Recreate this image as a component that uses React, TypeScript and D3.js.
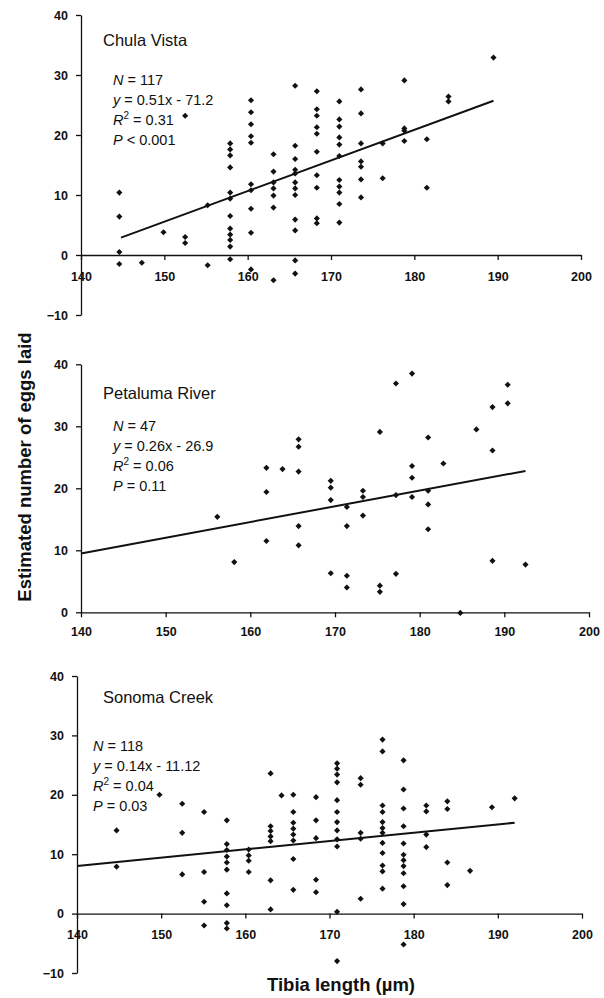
import React, { useEffect, useRef } from "react";
import * as d3 from "d3";

// tibia length (µm), estimated eggs laid
const chulaVista: [number, number][] = [
  [144.6, 10.4], [144.6, 6.4], [144.6, 0.5], [144.6, -1.5], [147.3, -1.3],
  [149.9, 3.8], [152.5, 23.2], [152.5, 3.0], [152.5, 2.0], [155.2, 8.3], [155.2, -1.7],
  [157.9, 18.6], [157.9, 17.6], [157.9, 16.6], [157.9, 14.6], [157.9, 10.4], [157.9, 9.4],
  [157.9, 6.5], [157.9, 4.4], [157.9, 3.4], [157.9, 2.5], [157.9, 1.4], [157.9, -0.7],
  [160.4, 25.8], [160.4, 23.8], [160.4, 21.8], [160.4, 19.8], [160.4, 18.7], [160.4, 11.8],
  [160.4, 10.8], [160.4, 7.7], [160.4, 3.7], [160.4, -2.4],
  [163.1, 16.8], [163.1, 13.9], [163.1, 12.1], [163.1, 11.1], [163.1, 9.9], [163.1, 7.9], [163.1, -4.2],
  [165.7, 28.2], [165.7, 18.2], [165.7, 16.0], [165.7, 14.2], [165.7, 13.6], [165.7, 12.1],
  [165.7, 11.1], [165.7, 10.0], [165.7, 5.9], [165.7, 4.1], [165.7, -0.9], [165.7, -3.1],
  [168.3, 27.3], [168.3, 24.3], [168.3, 23.2], [168.3, 21.3], [168.3, 20.2], [168.3, 17.2],
  [168.3, 13.3], [168.3, 11.2], [168.3, 6.1], [168.3, 5.3],
  [171.0, 25.6], [171.0, 22.6], [171.0, 21.4], [171.0, 19.6], [171.0, 18.4], [171.0, 16.5],
  [171.0, 12.5], [171.0, 11.4], [171.0, 10.4], [171.0, 8.5], [171.0, 5.4],
  [173.6, 27.6], [173.6, 23.6], [173.6, 18.6], [173.6, 15.6], [173.6, 14.7], [173.6, 12.6], [173.6, 9.6],
  [176.2, 18.6], [176.2, 12.8],
  [178.8, 29.1], [178.8, 21.1], [178.8, 20.7], [178.8, 19.0],
  [181.5, 19.3], [181.5, 11.2], [184.1, 26.4], [184.1, 25.6], [189.5, 32.9],
];

const petalumaRiver: [number, number][] = [
  [156.1, 15.4], [158.1, 8.1], [161.9, 23.3], [161.9, 19.4], [161.9, 11.5], [163.8, 23.1],
  [165.7, 27.9], [165.7, 26.7], [165.7, 22.7], [165.7, 13.9], [165.7, 10.8],
  [169.5, 21.2], [169.5, 20.1], [169.5, 18.1], [169.5, 6.3],
  [171.4, 17.0], [171.4, 13.9], [171.4, 5.9], [171.4, 4.0],
  [173.3, 19.6], [173.3, 18.6], [173.3, 15.6],
  [175.3, 29.1], [175.3, 4.3], [175.3, 3.3],
  [177.2, 36.9], [177.2, 18.9], [177.2, 6.2],
  [179.1, 38.5], [179.1, 23.6], [179.1, 21.7], [179.1, 18.6],
  [181.0, 28.2], [181.0, 19.6], [181.0, 17.4], [181.0, 13.4],
  [182.8, 24.0], [184.8, -0.1], [186.7, 29.5],
  [188.6, 33.1], [188.6, 26.1], [188.6, 8.3], [190.4, 36.7], [190.4, 33.7], [192.5, 7.7],
];

const sonomaCreek: [number, number][] = [
  [144.7, 14.0], [144.7, 7.9], [149.8, 20.0], [152.5, 18.5], [152.5, 13.6], [152.5, 6.6],
  [155.1, 17.1], [155.1, 7.0], [155.1, 2.0], [155.1, -2.0],
  [157.8, 15.7], [157.8, 11.7], [157.8, 10.7], [157.8, 9.6], [157.8, 8.6], [157.8, 7.4],
  [157.8, 3.4], [157.8, 1.4], [157.8, -1.6], [157.8, -2.5],
  [160.4, 10.8], [160.4, 9.8], [160.4, 8.9], [160.4, 7.0],
  [163.0, 23.6], [163.0, 14.7], [163.0, 13.9], [163.0, 13.0], [163.0, 12.2], [163.0, 5.6], [163.0, 0.7],
  [164.3, 19.9],
  [165.7, 20.0], [165.7, 17.1], [165.7, 15.3], [165.7, 14.3], [165.7, 13.3], [165.7, 12.3], [165.7, 9.2], [165.7, 4.0],
  [168.4, 19.6], [168.4, 15.7], [168.4, 12.7], [168.4, 5.7], [168.4, 3.6],
  [170.9, 25.3], [170.9, 24.4], [170.9, 23.4], [170.9, 22.1], [170.9, 19.1], [170.9, 17.1],
  [170.9, 15.4], [170.9, 14.0], [170.9, 12.5], [170.9, 11.3], [170.9, 0.3], [170.9, -8.0],
  [173.7, 22.8], [173.7, 21.7], [173.7, 13.6], [173.7, 12.6], [173.7, 2.5],
  [176.3, 29.3], [176.3, 27.3], [176.3, 18.2], [176.3, 17.1], [176.3, 15.4], [176.3, 14.4],
  [176.3, 13.6], [176.3, 11.9], [176.3, 10.2], [176.3, 8.1], [176.3, 7.1], [176.3, 4.2],
  [178.8, 25.8], [178.8, 20.9], [178.8, 17.7], [178.8, 14.7], [178.8, 11.8], [178.8, 9.9],
  [178.8, 9.0], [178.8, 8.0], [178.8, 6.8], [178.8, 4.6], [178.8, 1.6], [178.8, -5.2],
  [181.5, 18.2], [181.5, 17.2], [181.5, 13.3], [181.5, 11.2],
  [184.0, 18.9], [184.0, 17.6], [184.0, 8.6], [184.0, 4.8],
  [186.7, 7.2], [189.3, 17.9], [192.0, 19.4],
];

// fitted lines: [x0, y0, x1, y1]
const chulaFit = [144.8, 2.9, 189.5, 25.7];
const petalumaFit = [140, 9.5, 192.5, 22.8];
const sonomaFit = [140, 8.0, 192, 15.3];

const siteNames = ["Chula Vista", "Petaluma River", "Sonoma Creek"];
const statN = ["117", "47", "118"];
const statEq = ["0.51x - 71.2", "0.26x - 26.9", "0.14x - 11.12"];
const statR2 = ["0.31", "0.06", "0.04"];
const statP = ["< 0.001", "= 0.11", "= 0.03"];

const xTicks = [140, 150, 160, 170, 180, 190, 200];
const yTicksFull = [-10, 0, 10, 20, 30, 40];
const yTicksPos = [0, 10, 20, 30, 40];

const panels = [
  { pts: chulaVista, fit: chulaFit, yMin: -10, yTicks: yTicksFull, left: 81, right: 581, top: 15, bottom: 315, labelPad: 12.5, textX: 113, statY: 85, titleY: 45.5 },
  { pts: petalumaRiver, fit: petalumaFit, yMin: 0, yTicks: yTicksPos, left: 81, right: 589, top: 364.3, bottom: 612.3, labelPad: 10, textX: 113, statY: 431, titleY: 399 },
  { pts: sonomaCreek, fit: sonomaFit, yMin: -10, yTicks: yTicksFull, left: 77, right: 582, top: 676, bottom: 973, labelPad: 11.5, textX: 93, statY: 751, titleY: 703 },
];

const FONT = "Arial, 'Liberation Sans', sans-serif";
const INK = "#111";

export default function App() {
  const svgRef = useRef<SVGSVGElement>(null);
  const width = 604;
  const height = 998;

  useEffect(() => {
    const svg = d3.select(svgRef.current);
    svg.selectAll("*").remove();

    panels.forEach((p, i) => {
      const x = d3.scaleLinear().domain([140, 200]).range([p.left, p.right]);
      const y = d3.scaleLinear().domain([p.yMin, 40]).range([p.bottom, p.top]);
      const g = svg.append("g");

      // y axis
      const ya = g
        .append("g")
        .attr("transform", `translate(${p.left},0)`)
        .call(d3.axisLeft(y).tickValues(p.yTicks).tickSize(5).tickSizeOuter(0).tickPadding(8).tickFormat(d3.format("d")));
      ya.selectAll("path, line").attr("stroke", INK).attr("stroke-width", 1.3);
      ya.selectAll("text").attr("font-family", FONT).attr("font-size", 12.5).attr("font-weight", "bold").attr("fill", INK);

      // x axis at y = 0
      const xa = g
        .append("g")
        .attr("transform", `translate(0,${y(0)})`)
        .call(d3.axisBottom(x).tickValues(xTicks).tickSize(5).tickSizeOuter(0).tickPadding(p.labelPad));
      xa.selectAll("path, line").attr("stroke", INK).attr("stroke-width", 1.3);
      xa.selectAll("text").attr("font-family", FONT).attr("font-size", 12.5).attr("font-weight", "bold").attr("fill", INK);

      // points
      g.selectAll("path.pt")
        .data(p.pts)
        .join("path")
        .attr("class", "pt")
        .attr("transform", (d) => `translate(${x(d[0])},${y(d[1])})`)
        .attr("d", d3.symbol(d3.symbolDiamond2, 24)())
        .attr("fill", INK);

      // fit line
      g.append("line")
        .attr("x1", x(p.fit[0]))
        .attr("y1", y(p.fit[1]))
        .attr("x2", x(p.fit[2]))
        .attr("y2", y(p.fit[3]))
        .attr("stroke", INK)
        .attr("stroke-width", 2);

      // site name
      g.append("text")
        .attr("x", 103)
        .attr("y", p.titleY)
        .attr("font-family", FONT)
        .attr("font-size", 16.5)
        .attr("fill", INK)
        .text(siteNames[i]);

      // stats
      const st = g.append("g").attr("font-family", FONT).attr("font-size", 14.5).attr("fill", INK);
      const l1 = st.append("text").attr("x", p.textX).attr("y", p.statY);
      l1.append("tspan").attr("font-style", "italic").text("N");
      l1.append("tspan").text(` = ${statN[i]}`);
      const l2 = st.append("text").attr("x", p.textX).attr("y", p.statY + 20);
      l2.append("tspan").attr("font-style", "italic").text("y");
      l2.append("tspan").text(` = ${statEq[i]}`);
      const l3 = st.append("text").attr("x", p.textX).attr("y", p.statY + 40);
      l3.append("tspan").attr("font-style", "italic").text("R");
      l3.append("tspan").attr("font-size", 10).attr("dy", -6).text("2");
      l3.append("tspan").attr("dy", 6).text(` = ${statR2[i]}`);
      const l4 = st.append("text").attr("x", p.textX).attr("y", p.statY + 60);
      l4.append("tspan").attr("font-style", "italic").text("P");
      l4.append("tspan").text(` ${statP[i]}`);
    });

    // axis titles
    svg
      .append("text")
      .attr("transform", "translate(31,467) rotate(-90)")
      .attr("text-anchor", "middle")
      .attr("font-family", FONT)
      .attr("font-size", 18.5)
      .attr("font-weight", "bold")
      .attr("fill", INK)
      .text("Estimated number of eggs laid");

    svg
      .append("text")
      .attr("x", 341)
      .attr("y", 991)
      .attr("text-anchor", "middle")
      .attr("font-family", FONT)
      .attr("font-size", 18.5)
      .attr("font-weight", "bold")
      .attr("fill", INK)
      .text("Tibia length (µm)");
  }, []);

  return (
    <svg
      ref={svgRef}
      width={width}
      height={height}
      style={{ position: "absolute", left: 0, top: 0, background: "#fff" }}
    ></svg>
  );
}
